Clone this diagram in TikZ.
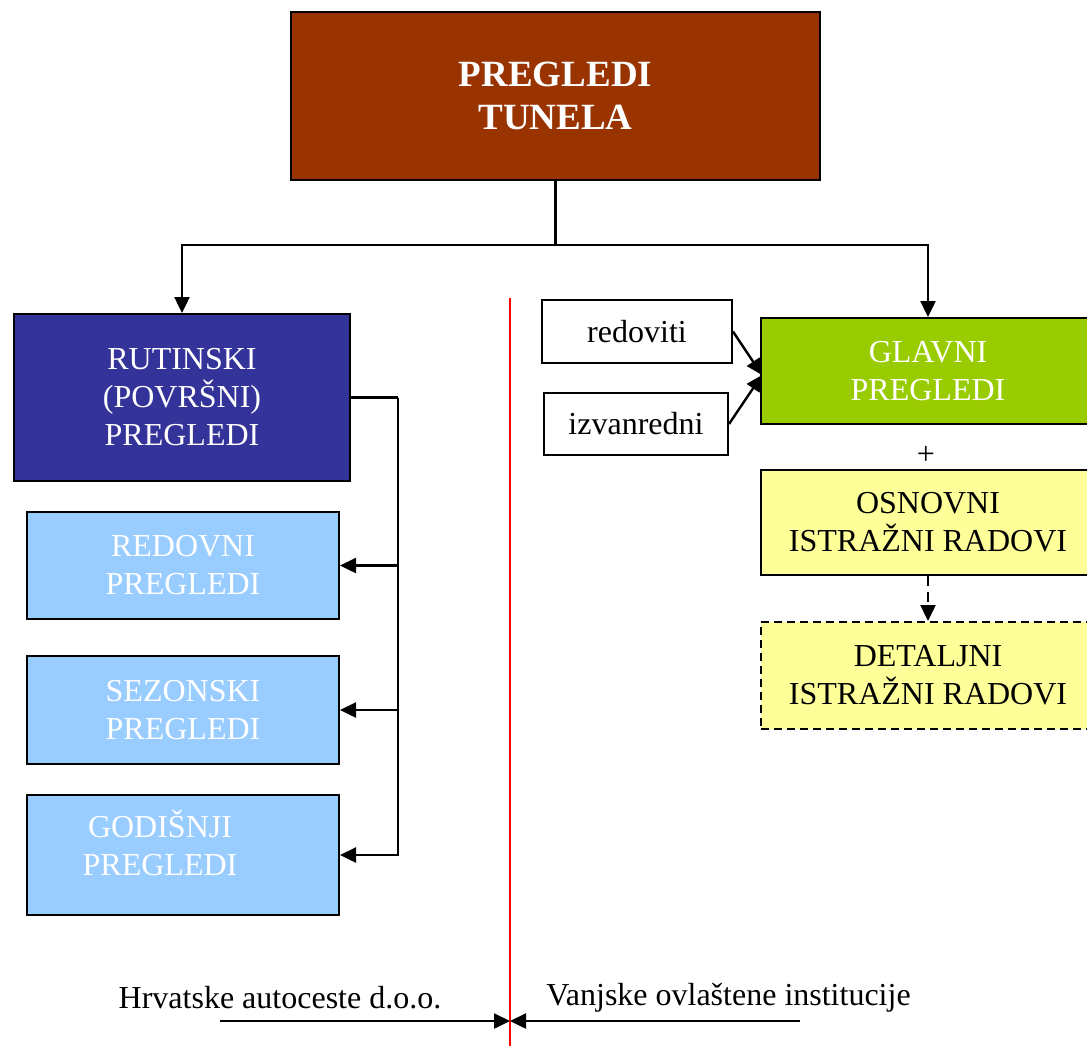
\documentclass[tikz,border=0pt]{standalone}
\usepackage{fontspec}
\setmainfont{Liberation Serif}
\usetikzlibrary{arrows.meta}

\definecolor{tunelbrown}{HTML}{993300}
\definecolor{rutblue}{HTML}{333399}
\definecolor{glavgreen}{HTML}{99CC00}
\definecolor{istryellow}{HTML}{FFFF99}
\definecolor{pregblue}{HTML}{99CCFF}

\begin{document}
\begin{tikzpicture}[x=0.5pt, y=-0.5pt,
    box/.style = {draw, line width=1pt, align=center, inner sep=0pt,
                  font=\fontsize{16}{19}\selectfont},
    pregbox/.style = {box, fill=pregblue, text=white,
                      minimum width=156pt},
    istrbox/.style = {box, fill=istryellow, minimum width=167pt},
    arr/.style = {line width=1.2pt, -{Triangle[length=8pt,width=7.5pt]}}]

    % Page frame
    \useasboundingbox (0,0) rectangle (1087,1046);
    \clip (0,0) rectangle (1087,1046);

    % Title box
    \node[box, fill=tunelbrown, text=white, minimum width=264.5pt,
          minimum height=84pt, font=\fontsize{18.5}{21.5}\selectfont\bfseries]
          (tunel) at (555.5,96) {PREGLEDI\\TUNELA};

    % Left side (routine inspections)
    \node[box, fill=rutblue, text=white, minimum width=168pt,
          minimum height=83.5pt] (rutinski) at (182,397.5)
          {RUTINSKI\\(POVRŠNI)\\PREGLEDI};
    \node[pregbox, minimum height=53.5pt] (redovni) at (183,565.5)
          {REDOVNI\\PREGLEDI};
    \node[pregbox, minimum height=54pt] (sezonski) at (183,710)
          {SEZONSKI\\PREGLEDI};
    \node[pregbox, minimum height=60pt,
          label={[text=white, align=center, font=\fontsize{16}{19}\selectfont,
                  xshift=-11.5pt, yshift=6pt]center:GODIŠNJI\\PREGLEDI}]
          (godisnji) at (183,855) {};

    % Right side (main inspections)
    \node[box, minimum width=95pt, minimum height=31.5pt] (redoviti)
          at (637,331.5) {redoviti};
    \node[box, minimum width=92pt, minimum height=31pt] (izvanredni)
          at (636,424) {izvanredni};
    \node[box, fill=glavgreen, text=white, minimum width=167pt,
          minimum height=53pt] (glavni) at (928,371) {GLAVNI\\PREGLEDI};
    \node[font=\fontsize{16}{19}\selectfont] (plus) at (926,455) {+};
    \node[istrbox, minimum height=52.5pt] (osnovni) at (928,522.5)
          {OSNOVNI\\ISTRAŽNI RADOVI};
    \node[istrbox, dash pattern=on 4pt off 2.5pt, minimum height=53.5pt]
          (detaljni) at (928,675.5) {DETALJNI\\ISTRAŽNI RADOVI};

    % Tree from the title
    \coordinate (split) at (555.5,245);
    \draw[line width=1.2pt] (tunel.south) -- (split);
    \draw[arr] (split) -| (rutinski.north);
    \draw[arr] (split) -| (glavni.north);

    % Bus to the routine inspections
    \coordinate (bus) at (398,397.5);
    \draw[line width=1.2pt] (rutinski.east) -- (bus);
    \foreach \b in {redovni, sezonski, godisnji}
        \draw[arr] (bus) |- (\b.east);

    % Kinds of main inspections
    \coordinate (glavin) at (762,375);
    \draw[arr] (redoviti.east) -- (glavin);
    \draw[arr] (izvanredni.east) -- (glavin);
    \draw[arr, dash pattern=on 5pt off 3pt] (osnovni.south) -- (detaljni.north);

    % Split line and the two sides
    \draw[red, line width=0.8pt] (510,298) -- (510,1046);
    \node[font=\fontsize{16}{19}\selectfont] (hac) at (280,998)
          {Hrvatske autoceste d.o.o.};
    \node[font=\fontsize{16}{19}\selectfont] (vanjske) at (728.5,998)
          {Vanjske ovlaštene institucije};
    \coordinate (hacend) at (220,1021);
    \coordinate (vanend) at (800,1021);
    \coordinate (border) at (510,1021);
    \draw[arr] (hacend) -- (border);
    \draw[arr] (vanend) -- (border);
\end{tikzpicture}
\end{document}
